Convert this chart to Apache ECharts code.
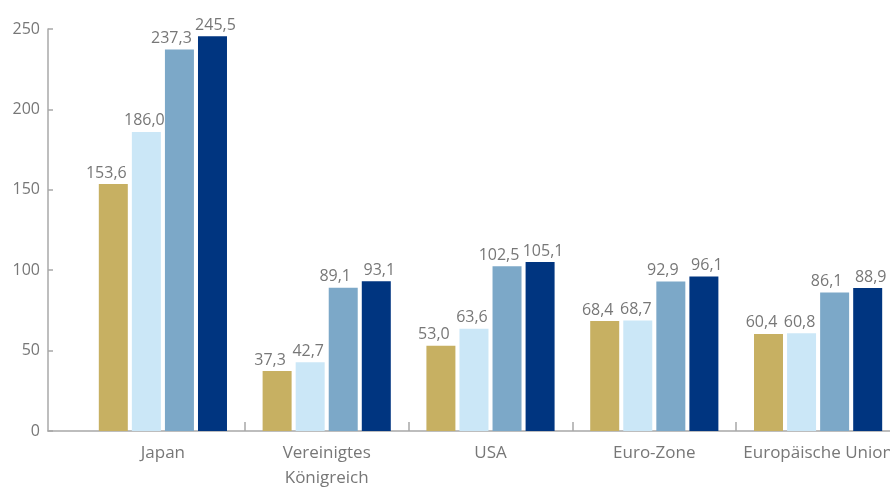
<!DOCTYPE html>
<html>
<head>
<meta charset="utf-8">
<script src="https://cdn.jsdelivr.net/npm/echarts@6/dist/echarts.min.js"></script>
<style>html,body{margin:0;padding:0;background:#fff}#c{width:890px;height:487px}</style>
</head>
<body>
<div id="c"></div>
<script>
var categories = ['Japan', 'Vereinigtes\nKönigreich', 'USA', 'Euro-Zone', 'Europäische Union'];
var series1 = [153.6, 37.3, 53.0, 68.4, 60.4];
var series2 = [186.0, 42.7, 63.6, 68.7, 60.8];
var series3 = [237.3, 89.1, 102.5, 92.9, 86.1];
var series4 = [245.5, 93.1, 105.1, 96.1, 88.9];
var yTicks = [0, 50, 100, 150, 200, 250];

var colors = ['#C7B062', '#CBE7F7', '#7CA8C8', '#003580'];
var labelShift = [-7, -2, -8, 3];
var font = 'Open Sans';
var grey = '#777';
var axisGrey = '#A8A8A8';

function mkSeries(name, data, color, shift) {
  return {
    name: name, type: 'bar', xAxisIndex: 0, yAxisIndex: 0,
    data: data, barWidth: 29, barGap: '14%',
    itemStyle: { color: color },
    label: {
      show: true, position: 'top', distance: 3, offset: [shift, 0],
      color: grey, fontFamily: font, fontSize: 16,
      formatter: function (p) { return p.value.toFixed(1).replace('.', ','); }
    }
  };
}

var chart = echarts.init(document.getElementById('c'));
chart.setOption({
  animation: false,
  grid: [
    { left: 81, right: -10, top: 29, bottom: 56, outerBoundsMode: 'none', containLabel: false },
    { left: 48, right: -10, top: 29, bottom: 56, outerBoundsMode: 'none', containLabel: false }
  ],
  xAxis: [
    {
      type: 'category', gridIndex: 0, data: categories,
      axisLine: { show: false },
      axisTick: { show: true, inside: true, length: 9, lineStyle: { color: axisGrey, width: 1.5 },
        interval: function (i) { return i > 0; } },
      axisLabel: { interval: 0, color: grey, fontFamily: font, fontSize: 17, margin: 10, lineHeight: 25 }
    },
    {
      type: 'value', gridIndex: 1, min: 0, max: 1,
      axisLine: { show: true, lineStyle: { color: axisGrey, width: 1.5 } },
      axisTick: { show: false }, axisLabel: { show: false }, splitLine: { show: false }
    }
  ],
  yAxis: [
    { type: 'value', gridIndex: 0, min: yTicks[0], max: yTicks[yTicks.length - 1], interval: 50, show: false },
    {
      type: 'value', gridIndex: 1, min: yTicks[0], max: yTicks[yTicks.length - 1], interval: 50,
      axisLine: { show: true, lineStyle: { color: axisGrey, width: 1.5 } },
      axisTick: { show: true, inside: true, length: 5, lineStyle: { color: axisGrey, width: 1.5 } },
      axisLabel: { color: grey, fontFamily: font, fontSize: 16, margin: 8 },
      splitLine: { show: false }
    }
  ],
  series: [
    mkSeries('Reihe 1', series1, colors[0], labelShift[0]),
    mkSeries('Reihe 2', series2, colors[1], labelShift[1]),
    mkSeries('Reihe 3', series3, colors[2], labelShift[2]),
    mkSeries('Reihe 4', series4, colors[3], labelShift[3])
  ]
});
</script>
</body>
</html>
